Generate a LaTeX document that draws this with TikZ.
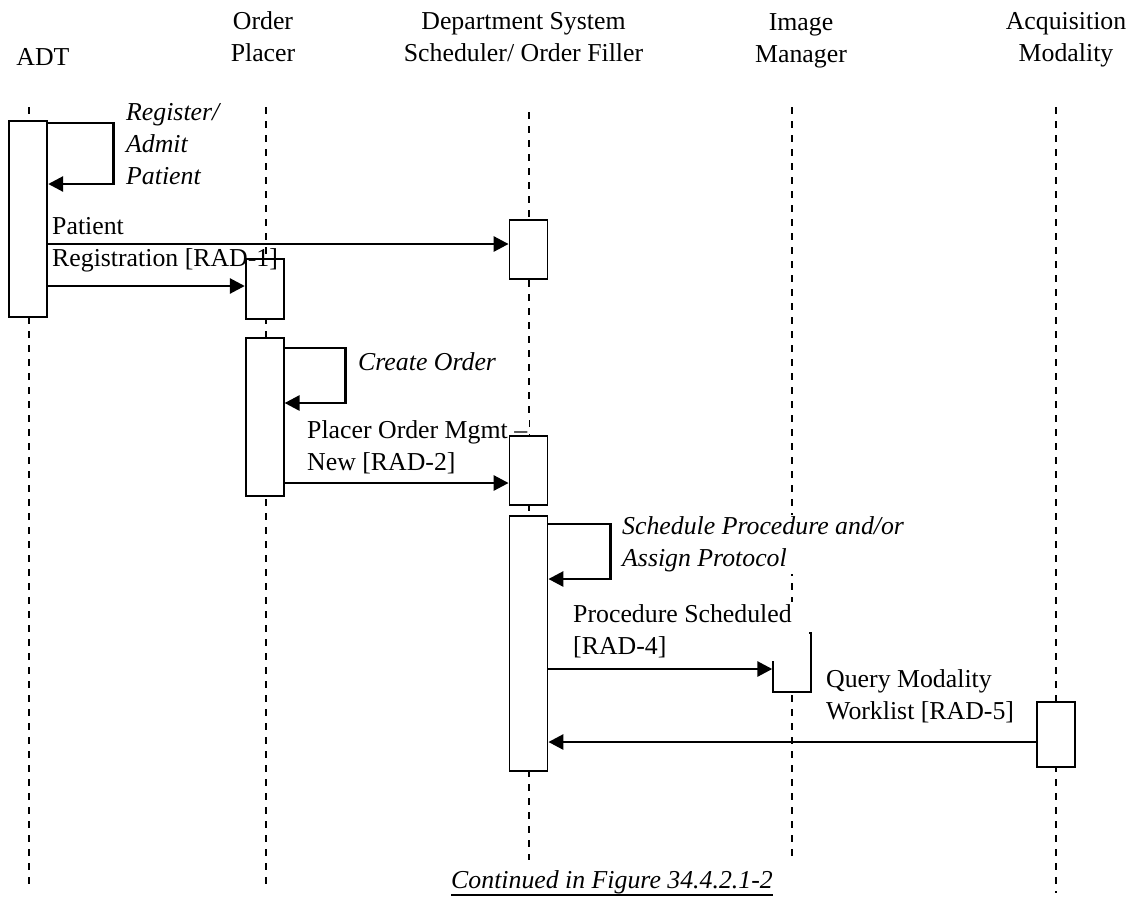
\documentclass[tikz,border=0pt]{standalone}
\usepackage{fontspec}
\setmainfont{Liberation Serif}
\usetikzlibrary{calc,arrows.meta}
\newcommand\diagfont{\fontsize{25.8pt}{32pt}\selectfont}

\begin{document}
\begin{tikzpicture}[x=1pt, y=-1pt,
  every node/.style={font=\diagfont, inner sep=0pt},
  lifeline/.style={line width=1.5pt, dash pattern=on 7pt off 7pt},
  actbox/.style={draw, fill=white, line width=1.8pt, minimum width=38pt},
  msg/.style={line width=2.8pt, -{Triangle[length=15pt, width=15pt]}},
  lbl/.style={anchor=north west, align=flush left},
  ital/.style={font=\diagfont\itshape}]

\useasboundingbox (0,0) rectangle (1137,898);

\node[anchor=north] (adt) at (43,48.3) {ADT};

\node[anchor=north, align=center] (placer) at (263,11.7) {Order\\Placer};

\node[anchor=north, align=center] (dss) at (523.5,12.7) {Department System\\Scheduler/ Order Filler};

\node[anchor=north, align=center] (im) at (801,13) {Image\\Manager};

\node[anchor=north, align=center] (mod) at (1066,12.7) {Acquisition\\Modality};

\coordinate (adttop) at (29,107);
\coordinate (adtbot) at (29,887);
\coordinate (placertop) at (266,107);
\coordinate (placerbot) at (266,890);
\coordinate (dsstop) at (529,112);
\coordinate (dssbot) at (529,860);
\coordinate (imtop) at (792,107);
\coordinate (imbot) at (792,860);
\coordinate (modtop) at (1056,107);
\coordinate (modbot) at (1056,893);

\draw[lifeline] (adttop) -- (adtbot);
\draw[lifeline] (placertop) -- (placerbot);
\draw[lifeline] (dsstop) -- (dssbot);
\draw[lifeline] (imtop) -- (imbot);
\draw[lifeline] (modtop) -- (modbot);

\node[lbl, fill=white, inner sep=2pt] (placerlbl) at (305,418.7) {Placer Order Mgmt –\\New {[RAD-2]}};

\node[lbl, ital, fill=white, inner sep=2pt] (schedlbl) at (620,514.7) {Schedule Procedure and/or\\Assign Protocol};

\node[actbox, minimum height=196pt] (adtact) at (28.3,218.7) {};

\node[actbox, minimum height=60pt] (placeract1) at (264.7,289) {};

\node[actbox, minimum height=157.7pt] (placeract2) at (264.7,416.9) {};

\node[actbox, minimum height=59pt] (dssact1) at (528.5,249.5) {};

\node[actbox, minimum height=69pt] (dssact2) at (528.5,470.5) {};

\node[actbox, minimum height=255pt] (dssact3) at (528.5,643.2) {};

\node[actbox, minimum height=59pt] (imact) at (792.2,662.5) {};

\node[actbox, minimum height=65.6pt] (modact) at (1056,734.5) {};

\node[lbl, fill=white, inner ysep=3pt, text width=236pt] (proclbl) at (573,601.7) {Procedure Scheduled\\ {[RAD-4]}};

\node[lbl, ital] (reglbl) at (126,103.7) {Register/\\Admit\\Patient};

\node[lbl] (patlbl) at (52,217.7) {Patient\\Registration {[RAD-1]}};

\node[lbl, ital] (createlbl) at (358,352.7) {Create Order};

\node[lbl] (querylbl) at (826,669.7) {Query Modality\\Worklist {[RAD-5]}};

\draw[msg] (adtact.east |- 0,123) -- ++(65,0) -- ++(0,61) -- (adtact.east |- 0,184);
\draw[msg] (adtact.east |- 0,244) -- (dssact1.west |- 0,244);
\draw[msg] (adtact.east |- 0,286) -- (placeract1.west |- 0,286);

\draw[msg] (placeract2.east |- 0,348) -- ++(61,0) -- ++(0,55) -- (placeract2.east |- 0,403);
\draw[msg] (placeract2.east |- 0,483) -- (dssact2.west |- 0,483);

\draw[msg] (dssact3.east |- 0,524) -- ++(62,0) -- ++(0,55) -- (dssact3.east |- 0,579);
\draw[msg] (dssact3.east |- 0,669) -- (imact.west |- 0,669);
\draw[msg] (modact.west |- 0,742) -- (dssact3.east |- 0,742);

\node[anchor=base, ital] (cont) at (612,888.5) {Continued in Figure 34.4.2.1-2};
\draw[line width=1.3pt] ($(cont.base west)+(0,6.5)$) -- ($(cont.base east)+(0,6.5)$);

\end{tikzpicture}
\end{document}
